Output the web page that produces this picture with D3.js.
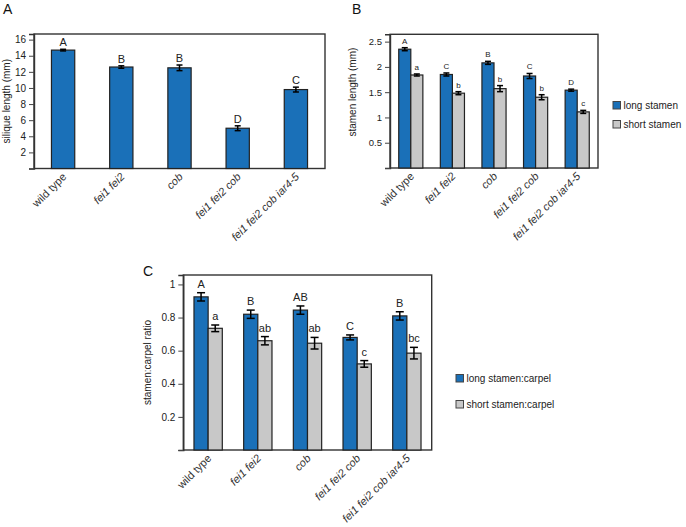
<!DOCTYPE html>
<html>
<head>
<meta charset="utf-8">
<script src="https://cdn.jsdelivr.net/npm/d3@7/dist/d3.min.js"></script>
<style>
  html, body { margin: 0; padding: 0; background: #fff; }
  svg { display: block; font-family: "Liberation Sans", Arial, sans-serif; }
</style>
</head>
<body>
<svg id="chart" width="686" height="527"></svg>
<script>
// ---------------- data ----------------
const categories = ["wild type", "fei1 fei2", "cob", "fei1 fei2 cob", "fei1 fei2 cob iar4-5"];

// Panel A – silique length (mm)
const siliqueLength = [14.7, 12.6, 12.5, 5.0, 9.8];
const siliqueErr    = [0.1, 0.15, 0.35, 0.3, 0.3];
const siliqueLetters = ["A", "B", "B", "D", "C"];
const siliqueTicks = [2, 4, 6, 8, 10, 12, 14, 16];

// Panel B – stamen length (mm)
const longStamen     = [2.35, 1.85, 2.08, 1.82, 1.54];
const longStamenErr  = [0.03, 0.03, 0.03, 0.05, 0.02];
const longStamenLetters = ["A", "C", "B", "C", "D"];
const shortStamen    = [1.84, 1.48, 1.57, 1.40, 1.11];
const shortStamenErr = [0.02, 0.03, 0.06, 0.05, 0.03];
const shortStamenLetters = ["a", "b", "b", "b", "c"];
const stamenTicks = [0.5, 1, 1.5, 2, 2.5];
const stamenSeries = ["long stamen", "short stamen"];

// Panel C – stamen:carpel ratio
const longRatio     = [0.925, 0.82, 0.845, 0.68, 0.81];
const longRatioErr  = [0.025, 0.025, 0.025, 0.015, 0.025];
const longRatioLetters = ["A", "B", "AB", "C", "B"];
const shortRatio    = [0.735, 0.66, 0.645, 0.52, 0.585];
const shortRatioErr = [0.02, 0.025, 0.035, 0.02, 0.035];
const shortRatioLetters = ["a", "ab", "ab", "c", "bc"];
const ratioTicks = [0.2, 0.4, 0.6, 0.8, 1];
const ratioSeries = ["long stamen:carpel", "short stamen:carpel"];

// ---------------- drawing ----------------
const BLUE = "#1a70b8";
const GRAY = "#c8c8c8";
const svg = d3.select("#chart");

function drawPanel(cfg) {
  const g = svg.append("g");
  const x0 = d3.scaleBand().domain(categories)
    .range([cfg.left, cfg.right]).paddingInner(cfg.padIn).paddingOuter(cfg.padIn / 2);
  const y = d3.scaleLinear().domain([0, cfg.ymax]).range([cfg.bottom, cfg.top]);
  const nSeries = cfg.series.length;
  const x1 = d3.scaleBand().domain(d3.range(nSeries)).range([0, x0.bandwidth()]);

  // frame
  g.append("rect").attr("x", cfg.left).attr("y", cfg.top)
    .attr("width", cfg.right - cfg.left).attr("height", cfg.bottom - cfg.top)
    .attr("fill", "none").attr("stroke", "#333").attr("stroke-width", 1.4);

  // y axis
  const yAxis = d3.axisLeft(y).tickValues([0].concat(cfg.ticks)).tickSize(5).tickPadding(3)
    .tickFormat(d => d === 0 ? "" : d3.format("~g")(d));
  const ya = g.append("g").attr("transform", `translate(${cfg.left},0)`).call(yAxis);
  ya.select(".domain").attr("stroke", "#333").attr("stroke-width", 1.4);
  ya.selectAll(".tick line").attr("stroke", "#444");
  ya.selectAll(".tick text").attr("font-size", cfg.tickFont).attr("fill", "#222")
    .attr("font-family", "Liberation Sans, Arial, sans-serif");

  // y label
  g.append("text")
    .attr("transform", `translate(${cfg.ylabelX},${(cfg.top + cfg.bottom) / 2 + cfg.ylabelDy}) rotate(-90)`)
    .attr("text-anchor", "middle").attr("font-size", 10).attr("fill", "#222")
    .text(cfg.ylabel);

  // bars
  cfg.series.forEach((s, si) => {
    const bw = x1.bandwidth();
    const grp = g.append("g");
    categories.forEach((c, i) => {
      const xb = x0(c) + x1(si);
      const v = s.values[i], e = s.err[i];
      grp.append("rect").attr("x", xb).attr("y", y(v))
        .attr("width", bw).attr("height", y(0) - y(v))
        .attr("fill", s.color).attr("stroke", "#222").attr("stroke-width", 1.2);
      const cx = xb + bw / 2;
      const cw = cfg.cap / 2;
      grp.append("line").attr("x1", cx).attr("x2", cx).attr("y1", y(v - e)).attr("y2", y(v + e))
        .attr("stroke", "#000").attr("stroke-width", 1.5);
      [v - e, v + e].forEach(t => grp.append("line").attr("x1", cx - cw).attr("x2", cx + cw)
        .attr("y1", y(t)).attr("y2", y(t)).attr("stroke", "#000").attr("stroke-width", 1.5));
      grp.append("text").attr("x", cx).attr("y", y(v + e) - cfg.letterGap)
        .attr("text-anchor", "middle").attr("font-size", cfg.letterFont).attr("fill", "#222")
        .text(s.letters[i]);
    });
  });

  // x labels
  categories.forEach(c => {
    const cx = x0(c) + x0.bandwidth() / 2 + cfg.xlabDx;
    g.append("text")
      .attr("transform", `translate(${cx},${cfg.bottom + cfg.xlabDy}) rotate(-45)`)
      .attr("text-anchor", "end").attr("font-size", 11).attr("fill", "#333")
      .attr("font-style", c === "wild type" ? "normal" : "italic")
      .text(c);
  });

  // panel letter
  g.append("text").attr("x", cfg.panelX).attr("y", cfg.panelY)
    .attr("font-size", 14).attr("fill", "#111").text(cfg.panel);

  // legend
  if (cfg.legend) {
    cfg.series.forEach((s, si) => {
      const ly = cfg.legend.y + si * cfg.legend.dy;
      g.append("rect").attr("x", cfg.legend.x).attr("y", ly - 7.5)
        .attr("width", 7.5).attr("height", 7.5)
        .attr("fill", s.color).attr("stroke", "#444").attr("stroke-width", 1);
      g.append("text").attr("x", cfg.legend.x + 10.5).attr("y", ly)
        .attr("font-size", 10).attr("fill", "#222").text(s.name);
    });
  }
}

drawPanel({
  panel: "A", panelX: 3, panelY: 14,
  left: 34, right: 325, top: 34, bottom: 168.5, ymax: 16.7,
  ticks: siliqueTicks, tickFont: 10, padIn: 0.6, cap: 6,
  ylabel: "silique length (mm)", ylabelX: 10, ylabelDy: 0,
  letterGap: 3, letterFont: 11, xlabDx: 4, xlabDy: 9,
  series: [{ name: "silique length", values: siliqueLength, err: siliqueErr, letters: siliqueLetters, color: BLUE }]
});

drawPanel({
  panel: "B", panelX: 352, panelY: 14,
  left: 390, right: 598, top: 34.3, bottom: 168, ymax: 2.645,
  ticks: stamenTicks, tickFont: 9.5, padIn: 0.42, cap: 6,
  ylabel: "stamen length (mm)", ylabelX: 356, ylabelDy: -9,
  letterGap: 4, letterFont: 8, xlabDx: 4, xlabDy: 9,
  series: [
    { name: stamenSeries[0], values: longStamen, err: longStamenErr, letters: longStamenLetters, color: BLUE },
    { name: stamenSeries[1], values: shortStamen, err: shortStamenErr, letters: shortStamenLetters, color: GRAY }
  ],
  legend: { x: 613, y: 109, dy: 19 }
});

drawPanel({
  panel: "C", panelX: 143, panelY: 276,
  left: 183.3, right: 431.7, top: 275, bottom: 450, ymax: 1.057,
  ticks: ratioTicks, tickFont: 10, padIn: 0.43, cap: 8,
  ylabel: "stamen:carpel ratio", ylabelX: 151, ylabelDy: 0,
  letterGap: 5, letterFont: 11, xlabDx: 4, xlabDy: 9,
  series: [
    { name: ratioSeries[0], values: longRatio, err: longRatioErr, letters: longRatioLetters, color: BLUE },
    { name: ratioSeries[1], values: shortRatio, err: shortRatioErr, letters: shortRatioLetters, color: GRAY }
  ],
  legend: { x: 456, y: 382, dy: 26 }
});
</script>
</body>
</html>
